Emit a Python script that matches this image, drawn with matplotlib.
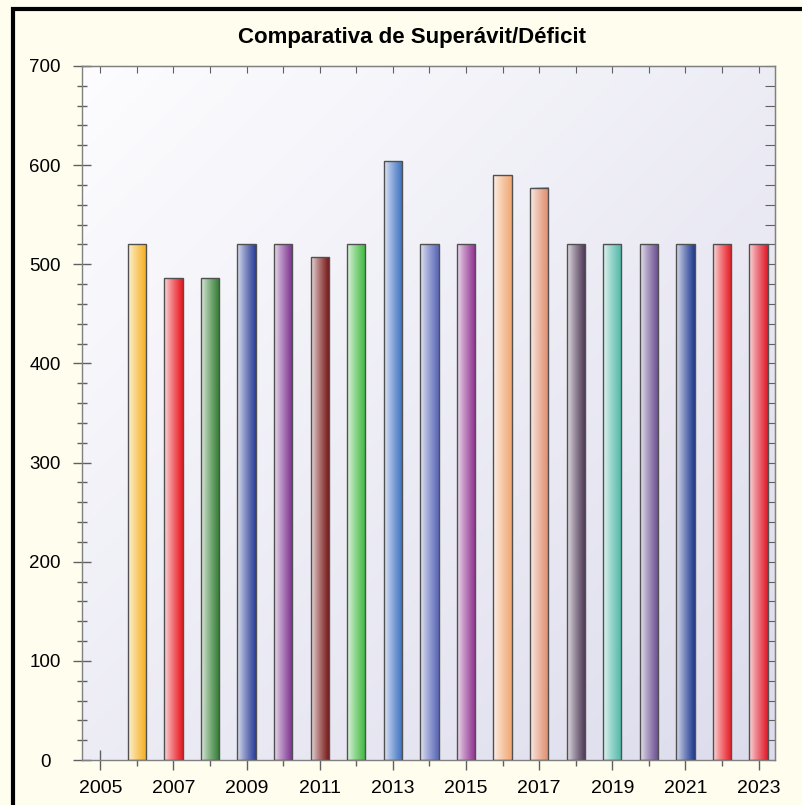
import numpy as np
import matplotlib
matplotlib.use("Agg")
import matplotlib.pyplot as plt
from matplotlib.colors import LinearSegmentedColormap, to_rgb
from matplotlib.patches import Rectangle
from matplotlib.ticker import MultipleLocator

plt.rcParams['font.family'] = ['Liberation Sans', 'DejaVu Sans']

# data
years = [2006, 2007, 2008, 2009, 2010, 2011, 2012, 2013, 2014,
         2015, 2016, 2017, 2018, 2019, 2020, 2021, 2022, 2023]
values = [520, 486, 486, 520, 520, 507, 520, 604, 520,
          520, 590, 577, 520, 520, 520, 520, 520, 520]
colors = ['#F6AE1C', '#E8161E', '#2E7A2E', '#2A3E98', '#7A2E8E', '#741010',
          '#3DB83D', '#3A6EC0', '#5866B6', '#8E2E8E', '#F2A874', '#E08C6C',
          '#4A3452', '#4EB8A6', '#684A8E', '#1E3A90', '#E8161E', '#E01A2A']
xticks = [2005, 2007, 2009, 2011, 2013, 2015, 2017, 2019, 2021, 2023]
title = "Comparativa de Superávit/Déficit"

W, H = 802, 805
fig = plt.figure(figsize=(W / 100, H / 100), dpi=100)
fig.patch.set_facecolor('#FFFDEE')

# black frame, runs off the right/bottom edge
fig.patches.append(Rectangle((13 / W, -0.2), 1.5, 1.2 - 9 / H,
                             transform=fig.transFigure, fill=False,
                             edgecolor='black', lw=3.0, clip_on=False))

ax = fig.add_axes([82 / W, 1 - 760 / H, (775 - 82) / W, (760 - 66) / H])

# plot area background: diagonal gradient, light top-left to lavender bottom-right
gx, gy = np.meshgrid(np.linspace(0, 1, 200), np.linspace(0, 1, 200))
t = (gx + gy) / 2
c0 = np.array(to_rgb('#FDFDFF'))
c1 = np.array(to_rgb('#DDDCEC'))
bg = c0 + (c1 - c0) * t[..., None]
ax.imshow(bg, extent=[0, 1, 0, 1], transform=ax.transAxes,
          aspect='auto', origin='upper', zorder=0)

# bars with horizontal gradient
width = 0.5
ramp = np.linspace(0, 1, 64)[None, :] ** 0.8
for x, v, c in zip(years, values, colors):
    light = tuple(np.array(to_rgb(c)) * 0.12 + 0.88)
    cmap = LinearSegmentedColormap.from_list('g', [light, c])
    ax.imshow(ramp, cmap=cmap, extent=[x - width / 2, x + width / 2, 0, v],
              aspect='auto', zorder=2, interpolation='bilinear')
    ax.bar(x, v, width=width, facecolor='none', edgecolor='#505050',
           linewidth=1.0, zorder=3)
ax.set_xlim(2004.5, 2023.45)
ax.set_ylim(0, 700)

for s in ax.spines.values():
    s.set_color('#808080')
    s.set_linewidth(1.0)

ax.set_xticks(xticks)
ax.set_xticklabels([str(y) for y in xticks])
ax.xaxis.set_minor_locator(MultipleLocator(1))
ax.yaxis.set_major_locator(MultipleLocator(100))
ax.yaxis.set_minor_locator(MultipleLocator(20))
ax.tick_params(axis='x', which='major', direction='inout', length=15,
               width=1, color='#606060', labelsize=14, pad=7)
ax.tick_params(axis='x', which='minor', direction='out', length=4,
               width=1, color='#606060')
ax.tick_params(axis='y', which='major', direction='inout', length=13,
               width=1, color='#606060', labelsize=13.5, pad=20)
ax.tick_params(axis='y', which='minor', direction='inout', length=7,
               width=1, color='#606060')
for lab in ax.get_yticklabels():
    lab.set_horizontalalignment('center')

top = ax.secondary_xaxis('top')
top.set_xticks(list(range(2005, 2024)))
top.tick_params(direction='in', length=5, color='#606060', labeltop=False)
top.spines['top'].set_color('#808080')
right = ax.secondary_yaxis('right')
right.set_yticks(list(range(0, 701, 20)))
right.tick_params(direction='in', length=7, color='#606060', labelright=False)
right.spines['right'].set_color('#808080')

fig.text(412 / W, 1 - 38 / H, title, ha='center', va='center',
         fontsize=16, fontweight='bold')

fig.savefig('out.png', dpi=100, facecolor=fig.get_facecolor())
